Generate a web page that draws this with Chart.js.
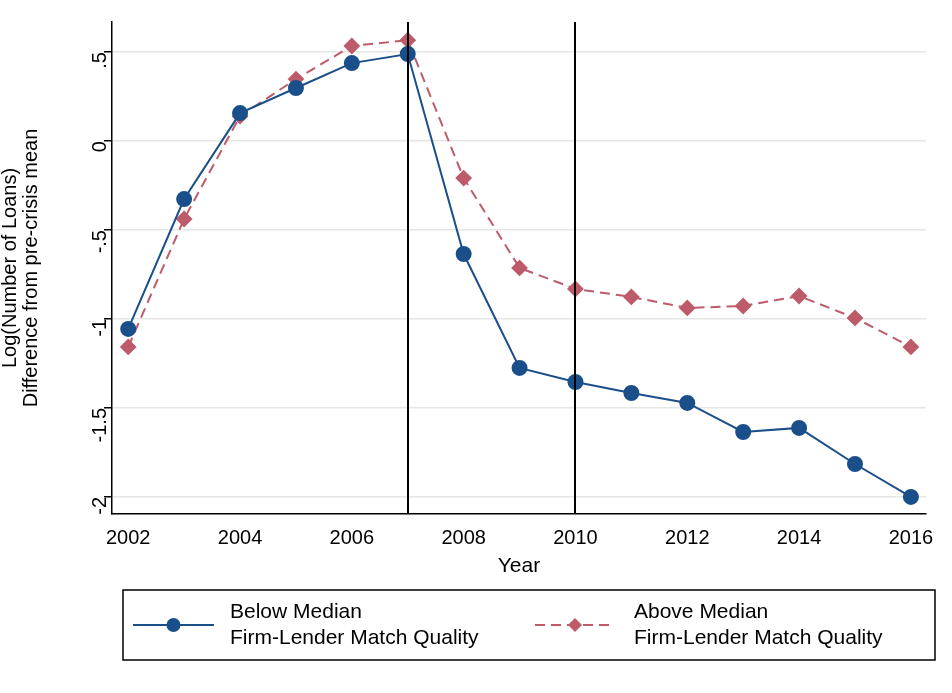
<!DOCTYPE html>
<html><head><meta charset="utf-8">
<script src="https://cdn.jsdelivr.net/npm/chart.js@4"></script>
<style>html,body{margin:0;padding:0;background:#fff}#wrap{width:952px;height:693px}</style>
</head><body><div id="wrap"><canvas id="c" width="952" height="693"></canvas></div>
<script>
const years = [2002,2003,2004,2005,2006,2007,2008,2009,2010,2011,2012,2013,2014,2015,2016];
const belowMedian = [-1.056,-0.326,0.157,0.298,0.438,0.489,-0.635,-1.275,-1.354,-1.416,-1.472,-1.635,-1.612,-1.815,-2.0];
const aboveMedian = [-1.157,-0.438,0.140,0.348,0.534,0.567,-0.208,-0.713,-0.831,-0.876,-0.938,-0.927,-0.871,-0.994,-1.157];
const yTicks = [0.5,0,-0.5,-1,-1.5,-2];
const xTicks = [2002,2004,2006,2008,2010,2012,2014,2016];
const crisisLines = [2007,2010];
const legendLabels = [['Below Median','Firm-Lender Match Quality'],['Above Median','Firm-Lender Match Quality']];

const BLUE = '#1a4f8a', RED = '#bd5b6a';
const FONT = '"Liberation Sans", Arial, sans-serif';

const extras = {
  id: 'extras',
  afterDatasetsDraw(chart) {
    const {ctx, scales: {x, y}, chartArea: a} = chart;
    ctx.save();
    ctx.strokeStyle = '#000'; ctx.lineWidth = 2;
    crisisLines.forEach(v => {
      const px = Math.round(x.getPixelForValue(v));
      ctx.beginPath(); ctx.moveTo(px, a.top); ctx.lineTo(px, a.bottom); ctx.stroke();
    });
    ctx.restore();
  },
  afterDraw(chart) {
    const {ctx, chartArea: a} = chart;
    ctx.save();
    ctx.fillStyle = '#000'; ctx.font = '21px ' + FONT;
    ctx.textAlign = 'center'; ctx.textBaseline = 'middle';
    ctx.fillText('Year', (a.left + a.right) / 2, 566);
    // legend box
    ctx.strokeStyle = '#000'; ctx.lineWidth = 1.5;
    ctx.strokeRect(123, 590, 812, 70);
    const items = [
      {x0: 133, x1: 214, tx: 230, color: BLUE, dash: [], style: 'circle', r: 7},
      {x0: 535, x1: 615, tx: 634, color: RED, dash: [10, 6], style: 'diamond', r: 7}
    ];
    items.forEach((it, i) => {
      ctx.strokeStyle = it.color; ctx.lineWidth = 2; ctx.setLineDash(it.dash);
      ctx.beginPath(); ctx.moveTo(it.x0, 625); ctx.lineTo(it.x1, 625); ctx.stroke();
      ctx.setLineDash([]);
      ctx.fillStyle = it.color;
      const cx = (it.x0 + it.x1) / 2;
      ctx.beginPath();
      if (it.style === 'circle') ctx.arc(cx, 625, it.r, 0, Math.PI * 2);
      else { ctx.moveTo(cx, 625 - it.r); ctx.lineTo(cx + it.r, 625); ctx.lineTo(cx, 625 + it.r); ctx.lineTo(cx - it.r, 625); ctx.closePath(); }
      ctx.fill();
      ctx.fillStyle = '#000'; ctx.textAlign = 'left';
      ctx.fillText(legendLabels[i][0], it.tx, 612);
      ctx.fillText(legendLabels[i][1], it.tx, 638);
    });
    ctx.restore();
  }
};

new Chart(document.getElementById('c'), {
  type: 'line',
  data: {
    datasets: [
      {label: 'Below', data: years.map((v, i) => ({x: v, y: belowMedian[i]})), borderColor: BLUE, backgroundColor: BLUE,
       borderWidth: 2, pointStyle: 'circle', pointRadius: 7, pointHoverRadius: 7, tension: 0},
      {label: 'Above', data: years.map((v, i) => ({x: v, y: aboveMedian[i]})), borderColor: RED, backgroundColor: RED,
       borderWidth: 2, borderDash: [10, 6], pointStyle: 'rectRot', pointRadius: 7, pointHoverRadius: 7, tension: 0}
    ]
  },
  options: {
    responsive: false, animation: false, devicePixelRatio: 1,
    layout: {padding: {left: 0, right: 26, top: 22, bottom: 0}},
    plugins: {legend: {display: false}, tooltip: {enabled: false}},
    scales: {
      x: {
        type: 'linear', min: 2001.71, max: 2016.27,
        afterBuildTicks: s => { s.ticks = xTicks.map(v => ({value: v})); },
        afterFit: s => { s.height = 179; },
        grid: {display: false, drawOnChartArea: false, drawTicks: true, tickLength: 8, color: '#000', lineWidth: 1.5},
        border: {color: '#000', width: 1.5},
        ticks: {color: '#000', font: {family: FONT, size: 20}, maxRotation: 0, padding: 4, callback: v => String(v)}
      },
      y: {
        min: -2.096, max: 0.669,
        afterBuildTicks: s => { s.ticks = yTicks.map(v => ({value: v})); },
        afterFit: s => { s.width = 112; },
        grid: {color: '#e6e6e6', lineWidth: 1.5, tickLength: 8, tickColor: '#000'},
        border: {color: '#000', width: 1.5},
        ticks: {color: '#000', font: {family: FONT, size: 20}, minRotation: 90, maxRotation: 90, padding: 4,
          callback: v => { const s = String(v); return s.replace(/^(-?)0\./, '$1.'); }},
        title: {display: true, text: ['Log(Number of Loans)', 'Difference from pre-crisis mean'], color: '#000',
          font: {family: FONT, size: 20, lineHeight: 1.05}, padding: 0}
      }
    }
  },
  plugins: [extras]
});
</script></body></html>
